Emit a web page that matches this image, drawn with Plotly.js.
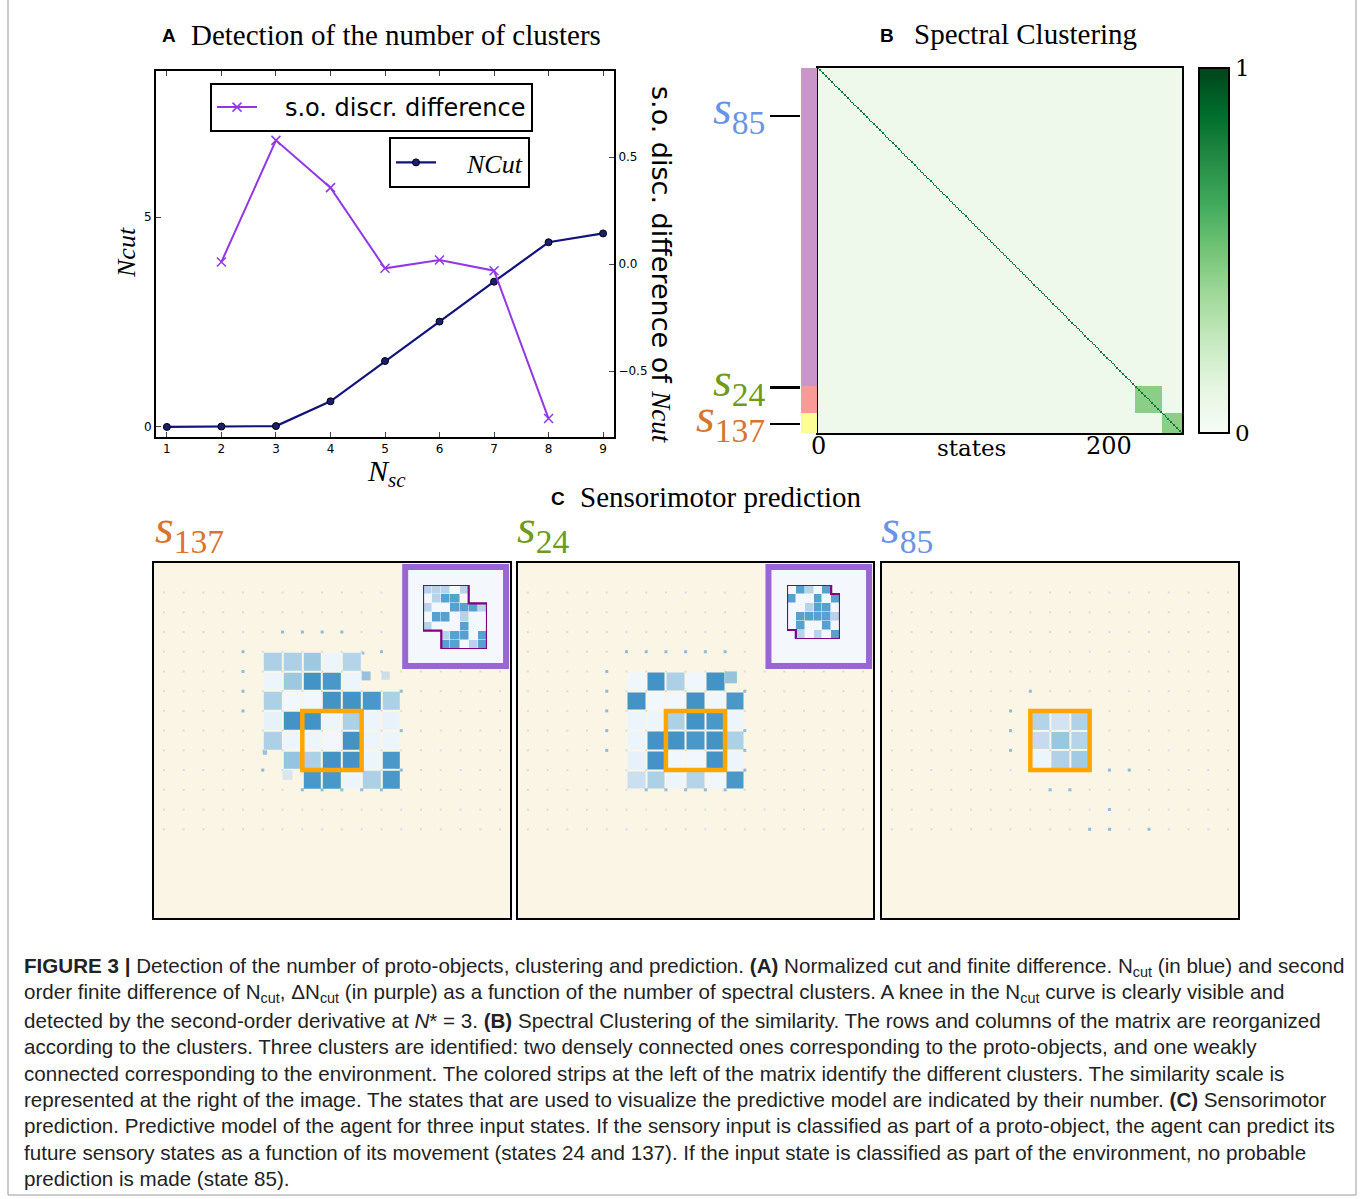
<!DOCTYPE html>
<html><head><meta charset="utf-8">
<script src="https://cdn.plot.ly/plotly-3.0.1.min.js"></script>
<style>body{margin:0;background:#fff}#chart{width:1360px;height:1199px}</style>
</head><body><div id="chart"></div><script>
// ---------- Panel A data ----------
const nSc = [1,2,3,4,5,6,7,8,9];
const nCut = [0.00,0.01,0.02,0.61,1.57,2.51,3.46,4.40,4.61];
const soX = [2,3,4,5,6,7,8];
const soDiff = [0.010,0.578,0.357,-0.020,0.019,-0.031,-0.722];
const xTicksA = [1,2,3,4,5,6,7,8,9];
const yTicksA = [0,5];
const y2TicksA = [-0.5,0,0.5];
const y2TickText = ['\u22120.5','0.0','0.5'];

// ---------- Panel B data ----------
const clusterSizes = [218,18,14];
const clusterColors = ['#c896c8','#fa9a98','#fdfd98'];
const withinSim = [0.06,0.44,0.44];
const betweenSim = 0.06;
const selfSim = 0.82;
const labelStates = ['85','24','137'];
const labelRows = [33,219,244];
const labelColors = ['#6a93e6','#6f9a1e','#d9742e'];
const xTicksB = [0,200];

// ---------- Panel C data ----------
const gridRows = [1,2,3,4,5,6,7,8,9,10,11,12,13];
const gridCols = [0,1,2,3,4,5,6,7,8,9,10,11,12,13,14,15,16,17];

const p137Cols = [5,6,7,8,9,10,11];
const p137Rows = [4,5,6,7,8,9,10];
const p137Z = [
  [0.33,0.33,0.38,0.05,0.30,null,null],
  [0.05,0.38,0.62,0.60,0.05,null,null],
  [0.33,0.03,0.03,0.62,0.62,0.60,0.33],
  [0.08,0.62,0.62,0.05,0.33,0.05,0.07],
  [0.33,0.05,0.05,0.03,0.62,0.05,0.05],
  [null,0.40,0.33,0.62,0.62,0.05,0.60],
  [null,null,0.60,0.60,0.05,0.33,0.60]
];
const p137SmallCol = [10,11,6,5,10];
const p137SmallRow = [5,5,10,9,4];
const p137SmallSize = [0.45,0.42,0.5,0.22,0.14];
const p137SmallVal = [0.50,0.30,0.22,0.50,0.50];
const p137DotCol = [6,7,8,9,11,4,4,4,4,12,12,12,7,8,9,10,11,5];
const p137DotRow = [3,3,3,3,4,4,5,6,7,6,8,10,11,11,11,11,11,10];

const p24Cols = [5,6,7,8,9,10];
const p24Rows = [5,6,7,8,9,10];
const p24Z = [
  [0.04,0.62,0.33,0.04,0.62,null],
  [0.62,0.03,0.03,0.62,0.04,0.60],
  [0.05,0.05,0.33,0.62,0.60,0.05],
  [0.05,0.62,0.62,0.60,0.62,0.33],
  [0.08,0.62,0.03,0.03,0.62,0.05],
  [0.22,0.33,0.05,0.30,0.04,0.60]
];
const p24SmallCol = [10];
const p24SmallRow = [5];
const p24SmallSize = [0.6];
const p24SmallVal = [0.50];
const p24DotCol = [5,6,7,8,9,10,4,4,4,4,4,11,11,11,11,6,7,8,9,10];
const p24DotRow = [4,4,4,4,4,4,5,6,7,8,9,6,8,9,10,11,11,11,11,11];

const p85Cols = [7,8,9];
const p85Rows = [7,8,9];
const p85Z = [
  [0.31,0.19,0.32],
  [0.25,0.39,0.30],
  [0.05,0.32,0.37]
];
const p85DotCol = [6,6,6,7,11,12,8,9,11,10,11,13];
const p85DotRow = [7,8,9,6,10,10,11,11,12,13,13,13];

// insets: proto-object shape = union of two squares of objSize, shifted
const inset137Z = [
  [0.30,0.30,0.30,0.02,0.30,null,null],
  [0.02,0.30,0.56,0.56,0.02,null,null],
  [0.30,0.02,0.02,0.56,0.56,0.56,0.30],
  [0.02,0.56,0.56,0.02,0.30,0.02,0.02],
  [0.30,0.02,0.02,0.02,0.56,0.02,0.02],
  [null,null,0.30,0.56,0.56,0.02,0.56],
  [null,null,0.56,0.56,0.02,0.30,0.56]
];
const inset137Shift = 2;
const inset24Z = [
  [0.02,0.56,0.30,0.02,0.56,null],
  [0.56,0.02,0.02,0.56,0.02,0.56],
  [0.02,0.02,0.30,0.56,0.56,0.02],
  [0.02,0.56,0.56,0.56,0.56,0.30],
  [0.02,0.56,0.02,0.02,0.56,0.02],
  [null,0.30,0.02,0.30,0.02,0.56]
];
const inset24Shift = 1;
const objSize = 5;

const captionLines = [
 '<b>FIGURE 3 |</b> Detection of the number of proto-objects, clustering and prediction. <b>(A)</b> Normalized cut and finite difference. N<sub>cut</sub> (in blue) and second',
 'order finite difference of N<sub>cut</sub>, \u0394N<sub>cut</sub> (in purple) as a function of the number of spectral clusters. A knee in the N<sub>cut</sub> curve is clearly visible and',
 'detected by the second-order derivative at <i>N</i>* = 3. <b>(B)</b> Spectral Clustering of the similarity. The rows and columns of the matrix are reorganized',
 'according to the clusters. Three clusters are identified: two densely connected ones corresponding to the proto-objects, and one weakly',
 'connected corresponding to the environment. The colored strips at the left of the matrix identify the different clusters. The similarity scale is',
 'represented at the right of the image. The states that are used to visualize the predictive model are indicated by their number. <b>(C)</b> Sensorimotor',
 'prediction. Predictive model of the agent for three input states. If the sensory input is classified as part of a proto-object, the agent can predict its',
 'future sensory states as a function of its movement (states 24 and 137). If the input state is classified as part of the environment, no probable',
 'prediction is made (state 85).'
];

// ---------- helpers ----------
const W = 1360, H = 1199;
const px = x => x / W;
const py = y => 1 - y / H;
const SERIF = 'Liberation Serif, Times New Roman, serif';
const SANS = 'DejaVu Sans, sans-serif';
const BLUES = [[0,'#f7fbff'],[0.125,'#deebf7'],[0.25,'#c6dbef'],[0.375,'#9ecae1'],[0.5,'#6baed6'],[0.625,'#4292c6'],[0.75,'#2171b5'],[0.875,'#08519c'],[1,'#08306b']];
const GREENS = [[0,'#f7fcf5'],[0.125,'#e5f5e0'],[0.25,'#c7e9c0'],[0.375,'#a1d99b'],[0.5,'#74c476'],[0.625,'#41ab5d'],[0.75,'#238b45'],[0.875,'#006d2c'],[1,'#00441b']];
const sLabel = (n, c) => `<span style="color:${c}"><i>s</i><sub>${n}</sub></span>`;
const NB = '\u00a0';

const traces = [];
// Panel A
traces.push({x: soX, y: soDiff, type:'scatter', mode:'lines+markers', name:NB+NB+NB+'s.o. discr. difference',
  xaxis:'x', yaxis:'y2', legend:'legend',
  line:{color:'#9137e6', width:2}, marker:{symbol:'x-thin', size:9, line:{color:'#9137e6', width:1.5}}, hoverinfo:'skip'});
traces.push({x: nSc, y: nCut, type:'scatter', mode:'lines+markers', name:NB+NB+NB+NB+'<i>NCut</i>',
  xaxis:'x', yaxis:'y', legend:'legend2',
  line:{color:'#12127e', width:2.2}, marker:{symbol:'circle', size:7, color:'#1a1f6e', line:{color:'#000', width:1}}, hoverinfo:'skip'});

// Panel B
const clusterOf = [];
clusterSizes.forEach((n, c) => { for (let i = 0; i < n; i++) clusterOf.push(c); });
const nStates = clusterOf.length;
const statePos = clusterOf.map((_, i) => i + 0.5);
const simZ = clusterOf.map((ci, i) => clusterOf.map((cj, j) => i === j ? selfSim : (ci === cj ? withinSim[ci] : betweenSim)));
traces.push({type:'heatmap', x: statePos, y: statePos, z: simZ, xaxis:'x3', yaxis:'y3',
  colorscale: GREENS, zmin:0, zmax:1, hoverinfo:'skip',
  colorbar:{x:px(1199), xanchor:'left', xpad:0, y:py(250.5), yanchor:'middle', ypad:0,
    len:365, lenmode:'pixels', thickness:30, thicknessmode:'pixels',
    outlinewidth:2, outlinecolor:'#000', tickvals:[0,1], ticktext:['0','1'], ticks:'',
    tickfont:{family:'DejaVu Serif, serif', size:23, color:'#000'}}});
const nCl = clusterColors.length;
const stripScale = [];
clusterColors.forEach((c, k) => { stripScale.push([k / nCl, c]); stripScale.push([(k + 1) / nCl, c]); });
traces.push({type:'heatmap', x:[0], y: statePos, z: clusterOf.map(c => [c]), xaxis:'x4', yaxis:'y4',
  colorscale: stripScale, zmin:-0.5, zmax:nCl - 0.5, showscale:false, hoverinfo:'skip'});

// Panel C
const panelC = [
  {ax:'5', cols:p137Cols, rows:p137Rows, z:p137Z, sc:p137SmallCol, sr:p137SmallRow, ss:p137SmallSize, sv:p137SmallVal, dc:p137DotCol, dr:p137DotRow, inset:true},
  {ax:'6', cols:p24Cols, rows:p24Rows, z:p24Z, sc:p24SmallCol, sr:p24SmallRow, ss:p24SmallSize, sv:p24SmallVal, dc:p24DotCol, dr:p24DotRow, inset:true},
  {ax:'7', cols:p85Cols, rows:p85Rows, z:p85Z, sc:[], sr:[], ss:[], sv:[], dc:p85DotCol, dr:p85DotRow, inset:false}
];
const cellPx = 356 / 18;
panelC.forEach(p => {
  const gx = [], gy = [];
  gridRows.forEach(r => gridCols.forEach(c => {
    if (p.inset && c >= 12 && r <= 4) return;
    gx.push(c); gy.push(r);
  }));
  traces.push({type:'scatter', mode:'markers', x:gx, y:gy, xaxis:'x'+p.ax, yaxis:'y'+p.ax,
    marker:{symbol:'square', size:2, color:'#cfe0ec'}, hoverinfo:'skip', showlegend:false});
  traces.push({type:'scatter', mode:'markers', x:p.dc, y:p.dr, xaxis:'x'+p.ax, yaxis:'y'+p.ax,
    marker:{symbol:'square', size:3, color:'#8fbcdc'}, hoverinfo:'skip', showlegend:false});
  traces.push({type:'heatmap', x:p.cols.map(c => c + 0.5), y:p.rows.map(r => r + 0.5), z:p.z,
    xaxis:'x'+p.ax, yaxis:'y'+p.ax, colorscale:BLUES, zmin:0, zmax:1, showscale:false,
    xgap:2, ygap:2, hoverinfo:'skip'});
  if (p.sc.length) traces.push({type:'scatter', mode:'markers',
    x:p.sc.map((c, k) => c + p.ss[k] / 2), y:p.sr.map((r, k) => r + p.ss[k] / 2),
    xaxis:'x'+p.ax, yaxis:'y'+p.ax,
    marker:{symbol:'square', size:p.ss.map(s => s * cellPx), color:p.sv, colorscale:BLUES, cmin:0, cmax:1, line:{width:0}},
    hoverinfo:'skip', showlegend:false});
});
// insets
function outline(shift) {
  const S = objSize, k = shift;
  const pts = [[0,0],[S,0],[S,k],[S+k,k],[S+k,S+k],[k,S+k],[k,S],[0,S],[0,0]];
  return {x: pts.map(p => p[0] - 0.5), y: pts.map(p => p[1] - 0.5)};
}
[[inset137Z, inset137Shift, '8'], [inset24Z, inset24Shift, '9']].forEach(([z, sh, ax]) => {
  traces.push({type:'heatmap', z:z, xaxis:'x'+ax, yaxis:'y'+ax, colorscale:BLUES, zmin:0, zmax:1,
    showscale:false, xgap:0.5, ygap:0.5, hoverinfo:'skip'});
  const o = outline(sh);
  traces.push({type:'scatter', mode:'lines', x:o.x, y:o.y, xaxis:'x'+ax, yaxis:'y'+ax,
    line:{color:'#800080', width:2.2}, hoverinfo:'skip', showlegend:false});
});

// ---------- layout ----------
const hidden = {visible:false, showgrid:false, zeroline:false};
const panelAxis = (d, r) => ({domain:d, range:r, showgrid:false, zeroline:false, showticklabels:false, ticks:'',
  showline:true, mirror:true, linewidth:2, linecolor:'#000'});
const layout = {
  width:W, height:H, margin:{l:0, r:0, t:0, b:0}, paper_bgcolor:'#fff', plot_bgcolor:'rgba(0,0,0,0)',
  showlegend:true,
  xaxis:{domain:[px(156), px(614)], range:[0.8, 9.2], anchor:'y', tickvals:xTicksA, ticks:'inside', ticklen:5,
    showline:true, mirror:'ticks', linewidth:2, linecolor:'#000', showgrid:false, zeroline:false,
    tickfont:{family:SANS, size:12, color:'#000'}},
  yaxis:{domain:[py(437), py(71)], range:[-0.24, 8.48], anchor:'x', tickvals:yTicksA, ticks:'inside', ticklen:5,
    showline:true, mirror:true, linewidth:2, linecolor:'#000', showgrid:false, zeroline:false,
    tickfont:{family:SANS, size:12, color:'#000'}},
  yaxis2:{overlaying:'y', side:'right', anchor:'x', range:[-0.808, 0.902], tickvals:y2TicksA, ticktext:y2TickText,
    ticks:'inside', ticklen:5, showline:true, linewidth:2, linecolor:'#000', showgrid:false, zeroline:false,
    tickfont:{family:SANS, size:12, color:'#000'}},
  legend:{x:px(210), y:py(83), xanchor:'left', yanchor:'top', bgcolor:'#fff', bordercolor:'#000', borderwidth:2,
    font:{family:SANS, size:24, color:'#000'}, itemwidth:40},
  legend2:{x:px(389), y:py(137), xanchor:'left', yanchor:'top', bgcolor:'#fff', bordercolor:'#000', borderwidth:2,
    font:{family:SERIF, size:26, color:'#000'}, itemwidth:40},
  xaxis3:{domain:[px(818), px(1182)], range:[0, nStates], anchor:'y3', showticklabels:false, ticks:'',
    showline:true, mirror:true, linewidth:2, linecolor:'#000', showgrid:false, zeroline:false},
  yaxis3:{domain:[py(433), py(68)], range:[nStates, 0], anchor:'x3', showticklabels:false, ticks:'',
    showline:true, mirror:true, linewidth:2, linecolor:'#000', showgrid:false, zeroline:false},
  xaxis4:Object.assign({domain:[px(801), px(817)], range:[-0.5, 0.5], anchor:'y4'}, hidden),
  yaxis4:{domain:[py(433), py(68)], range:[nStates, 0], anchor:'x4', tickvals:labelRows,
    showticklabels:false, ticks:'outside', ticklen:30, tickwidth:2.5,
    tickcolor:'#000', showline:false, showgrid:false, zeroline:false},
  xaxis5:Object.assign(panelAxis([px(154), px(510)], [-0.5, 17.5]), {anchor:'y5'}),
  yaxis5:Object.assign(panelAxis([py(918), py(563)], [17.5, -0.5]), {anchor:'x5'}),
  xaxis6:Object.assign(panelAxis([px(518), px(873)], [-0.5, 17.5]), {anchor:'y6'}),
  yaxis6:Object.assign(panelAxis([py(918), py(563)], [17.5, -0.5]), {anchor:'x6'}),
  xaxis7:Object.assign(panelAxis([px(882), px(1238)], [-0.5, 17.5]), {anchor:'y7'}),
  yaxis7:Object.assign(panelAxis([py(918), py(563)], [17.5, -0.5]), {anchor:'x7'}),
  xaxis8:Object.assign({domain:[px(423), px(487)], range:[-0.5, 6.5], anchor:'y8'}, hidden),
  yaxis8:Object.assign({domain:[py(649), py(585)], range:[6.5, -0.5], anchor:'x8'}, hidden),
  xaxis9:Object.assign({domain:[px(787), px(840)], range:[-0.5, 5.5], anchor:'y9'}, hidden),
  yaxis9:Object.assign({domain:[py(639), py(585)], range:[5.5, -0.5], anchor:'x9'}, hidden),
  shapes:[], annotations:[]
};

// backgrounds and frames in panel C
['5','6','7'].forEach(a => layout.shapes.push({type:'rect', xref:'x'+a+' domain', yref:'y'+a+' domain',
  x0:0, x1:1, y0:0, y1:1, fillcolor:'#fbf5e6', line:{width:0}, layer:'below'}));
['5','6'].forEach(a => {
  layout.shapes.push({type:'rect', xref:'x'+a, yref:'y'+a, x0:12.2, x1:17.3, y0:-0.3, y1:4.72,
    fillcolor:'#f4f8fd', line:{width:0}, layer:'below'});
  layout.shapes.push({type:'rect', xref:'x'+a, yref:'y'+a, x0:12.2, x1:17.3, y0:-0.3, y1:4.72,
    line:{color:'#9966d4', width:6}, layer:'above'});
});
['5','6','7'].forEach(a => layout.shapes.push({type:'rect', xref:'x'+a, yref:'y'+a, x0:7, x1:10, y0:7, y1:10,
  line:{color:'#ffa500', width:4.5}, layer:'above'}));
// figure frame
layout.shapes.push({type:'rect', xref:'paper', yref:'paper', x0:px(8), x1:px(1356), y0:py(1195), y1:py(-2),
  line:{color:'#9a9a9a', width:1}});

const ann = (o) => Object.assign({xref:'paper', yref:'paper', showarrow:false}, o);
const A = layout.annotations;
const BOLD = 'Liberation Sans, Arial, sans-serif';
A.push(ann({x:px(160), y:py(36), xanchor:'left', yanchor:'middle', text:'<b>A</b>', font:{family:BOLD, size:19, color:'#000'}}));
A.push(ann({x:px(189), y:py(35), xanchor:'left', yanchor:'middle', text:'Detection of the number of clusters', font:{family:SERIF, size:29, color:'#000'}}));
A.push(ann({x:px(878), y:py(36), xanchor:'left', yanchor:'middle', text:'<b>B</b>', font:{family:BOLD, size:19, color:'#000'}}));
A.push(ann({x:px(912), y:py(34), xanchor:'left', yanchor:'middle', text:'Spectral Clustering', font:{family:SERIF, size:29, color:'#000'}}));
A.push(ann({x:px(549), y:py(498), xanchor:'left', yanchor:'middle', text:'<b>C</b>', font:{family:BOLD, size:19, color:'#000'}}));
A.push(ann({x:px(578), y:py(497), xanchor:'left', yanchor:'middle', text:'Sensorimotor prediction', font:{family:SERIF, size:29, color:'#000'}}));
// Panel A axis titles
A.push(ann({x:px(126), y:py(253), xanchor:'center', yanchor:'middle', textangle:-90, text:'<i>Ncut</i>', font:{family:SERIF, size:26, color:'#000'}}));
A.push(ann({x:px(386), y:py(473), xanchor:'center', yanchor:'middle', text:'<i>N</i><sub><i>sc</i></sub>', font:{family:SERIF, size:30, color:'#000'}}));
A.push(ann({x:px(662), y:py(265), xanchor:'center', yanchor:'middle', textangle:90,
  text:'s.o. disc. difference of <span style="font-family:Liberation Serif"><i>Ncut</i></span>', font:{family:SANS, size:27, color:'#000'}}));
// Panel B axis labels
xTicksB.forEach(v => A.push(ann({xref:'x3', x:v, y:py(446), xanchor:'center', yanchor:'middle', text:String(v),
  font:{family:'DejaVu Serif, serif', size:24, color:'#000'}})));
A.push(ann({x:px(971), y:py(448), xanchor:'center', yanchor:'middle', text:'states', font:{family:'DejaVu Serif, serif', size:23, color:'#000'}}));
labelStates.forEach((s, k) => A.push(ann({x:px(767), yref:'y4', y:labelRows[k], xanchor:'right', yanchor:'middle', yshift:5,
  text:sLabel(s, labelColors[k]), font:{family:SERIF, size:48}})));
// Panel C state labels
const cLabelX = [153, 515, 879];
const cLabelOrder = [2, 1, 0];
cLabelOrder.forEach((k, i) => A.push(ann({x:px(cLabelX[i]), y:py(530), xanchor:'left', yanchor:'middle',
  text:sLabel(labelStates[k], labelColors[k]), font:{family:SERIF, size:48}})));
// caption
const capY = [967, 993, 1020, 1046, 1073, 1099, 1125, 1152, 1178];
captionLines.forEach((t, i) => A.push(ann({x:px(22), y:py(capY[i]), xanchor:'left', yanchor:'middle', text:t,
  font:{family:'Liberation Sans Narrow, Arial Narrow, Liberation Sans, sans-serif', size:20.6, color:'#222'}})));

Plotly.newPlot('chart', traces, layout, {staticPlot:true, displayModeBar:false});
</script></body></html>
